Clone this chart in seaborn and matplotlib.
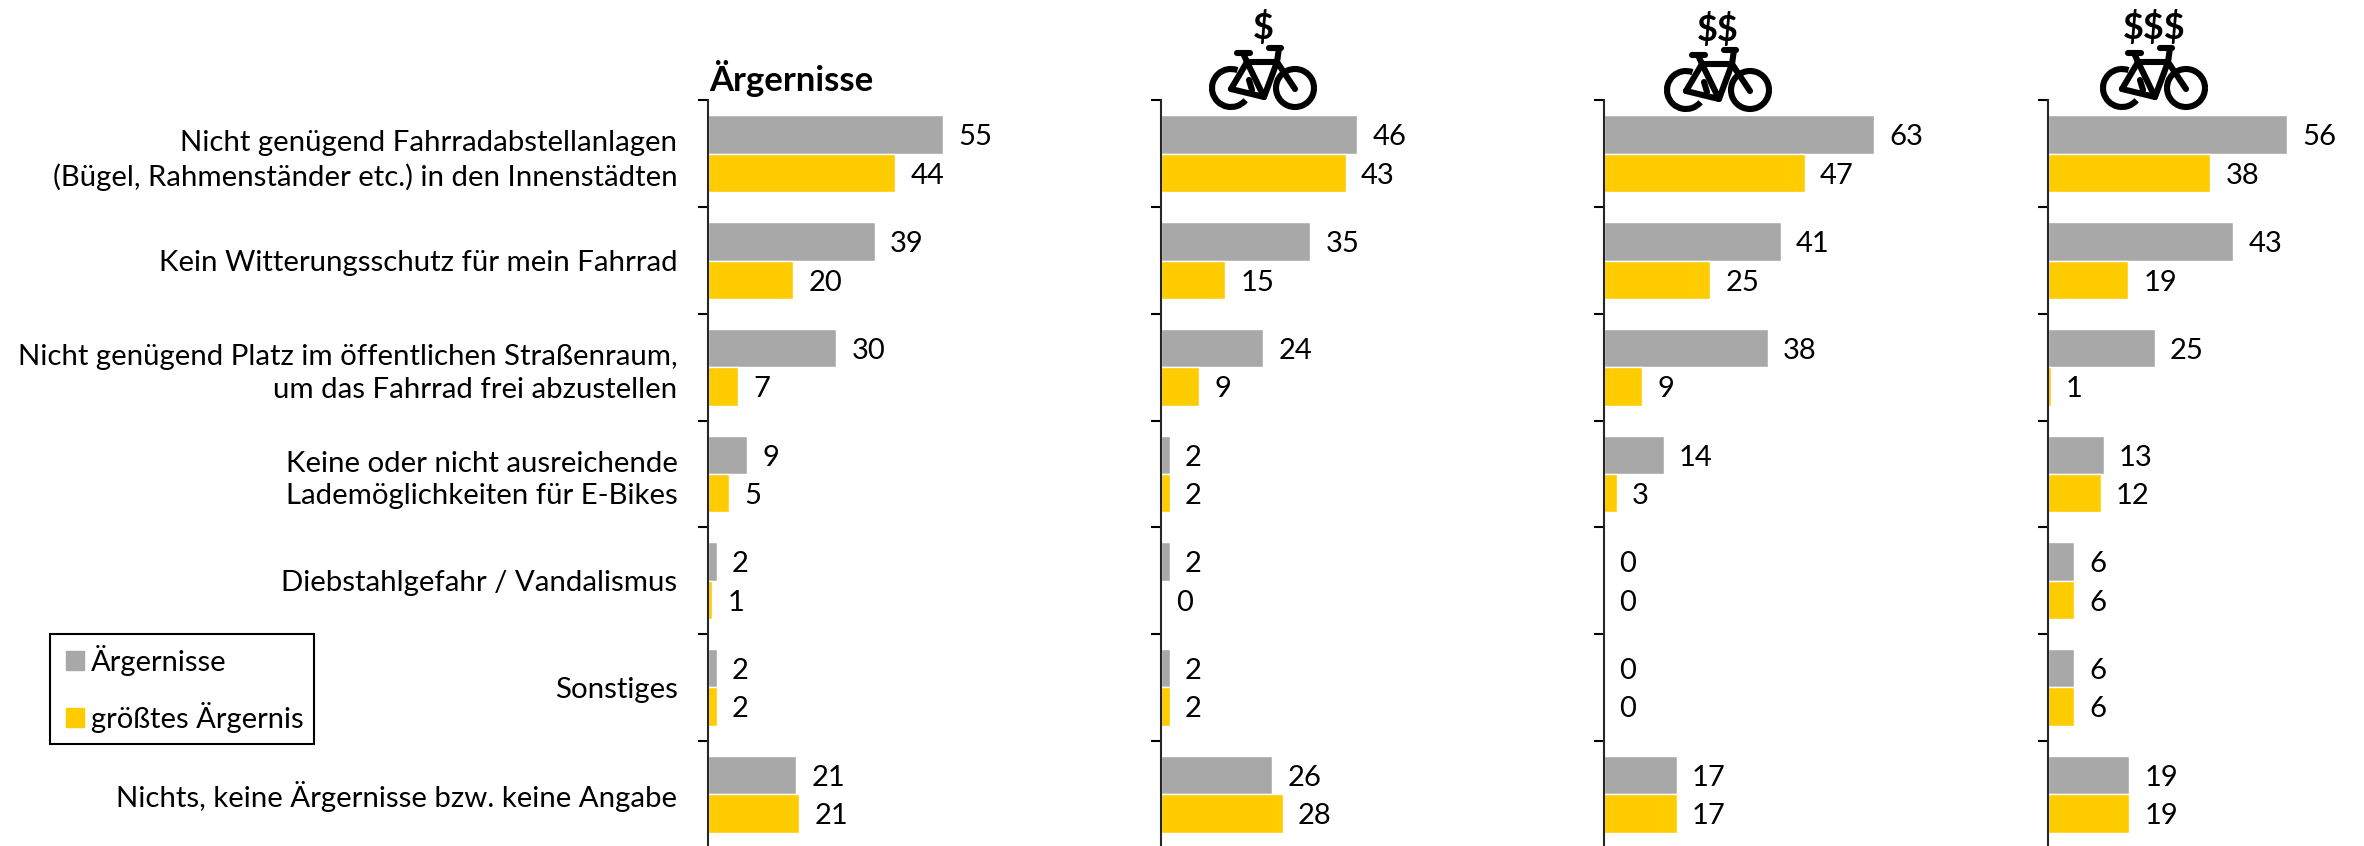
import numpy as np
import pandas as pd
import matplotlib
matplotlib.use("Agg")
import matplotlib.pyplot as plt
from matplotlib.patches import Arc, Rectangle
from matplotlib.legend_handler import HandlerPatch
from matplotlib.transforms import ScaledTranslation
import seaborn as sns

# category labels, top to bottom
categories = [
    "Nicht genügend Fahrradabstellanlagen\n(Bügel, Rahmenständer etc.) in den Innenstädten",
    "Kein Witterungsschutz für mein Fahrrad",
    "Nicht genügend Platz im öffentlichen Straßenraum,\num das Fahrrad frei abzustellen",
    "Keine oder nicht ausreichende\nLademöglichkeiten für E-Bikes",
    "Diebstahlgefahr / Vandalismus",
    "Sonstiges",
    "Nichts, keine Ärgernisse bzw. keine Angabe",
]
series_names = ["Ärgernisse", "größtes Ärgernis"]

# bar lengths, the printed labels are these rounded
all_grey = [55, 39, 30, 9.2, 2, 2, 20.7]
all_yellow = [43.8, 20, 7, 5, 1, 2, 21.4]
low_grey = [46, 35, 24, 2, 2, 2, 26]
low_yellow = [43.3, 15, 9, 2, 0, 2, 28.5]
mid_grey = [63.3, 41.4, 38.4, 14, 0, 0, 17]
mid_yellow = [47, 24.8, 9, 3, 0, 0, 17]
high_grey = [56, 43.4, 25, 13, 6, 6, 19]
high_yellow = [38, 18.7, 0.6, 12.3, 6, 6, 19]

GREY = "#A8A8A8"
YELLOW = "#FFCC00"
W, H = 2364, 846
PX_PER_UNIT = 4.27
AX_TOP = 100.5
AX_BOTTOM = 847.5


def make_df(grey, yellow):
    rows = []
    for name, vals in zip(series_names, [grey, yellow]):
        for cat, v in zip(categories, vals):
            rows.append({"cat": cat, "series": name, "value": v})
    return pd.DataFrame(rows)


def draw_panel(fig, left, grey, yellow, show_labels=False):
    width = 300
    ax = fig.add_axes([left / W, 1 - AX_BOTTOM / H, width / W, (AX_BOTTOM - AX_TOP) / H])
    ax.patch.set_alpha(0)
    sns.barplot(
        data=make_df(grey, yellow),
        y="cat",
        x="value",
        hue="series",
        order=categories,
        hue_order=series_names,
        palette=[GREY, YELLOW],
        saturation=1,
        width=0.72,
        gap=0,
        legend=False,
        ax=ax,
    )
    ax.set_xlim(0, width / PX_PER_UNIT)
    ax.set_ylim(6.5, -0.5)
    ax.set_xlabel("")
    ax.set_ylabel("")
    ax.xaxis.set_visible(False)
    for side in ["top", "right", "bottom"]:
        ax.spines[side].set_visible(False)
    ax.spines["left"].set_linewidth(1.5)
    ax.set_yticks(np.arange(-0.5, 7, 1))
    ax.set_yticklabels([])
    ax.tick_params(axis="y", which="major", left=True, length=7.5, width=1.5, color="black")
    ax.set_yticks(np.arange(7), minor=True)
    if show_labels:
        ax.set_yticklabels(categories, minor=True, fontsize=LABEL_FONT, ha="right", linespacing=1.33, color="black")
        # labels sit a touch above the group centre
        shift = ScaledTranslation(0, 4 / 100, fig.dpi_scale_trans)
        for lab in ax.get_yticklabels(minor=True):
            lab.set_transform(lab.get_transform() + shift)
    else:
        ax.set_yticklabels([], minor=True)
    ax.tick_params(axis="y", which="minor", left=False, length=0, pad=22)
    for cont in ax.containers:
        texts = ax.bar_label(cont, fmt="%.0f", padding=11, fontsize=FONT, color="black")
        for t in texts:
            t.xyann = (t.xyann[0], -2)
    return ax


def draw_bike(ax, cx, cy, lw=4.4):
    # icon in pixel offsets around its centre
    ax.add_patch(Arc((cx - 33, cy + 28), 38, 38, theta1=40, theta2=290, lw=lw, color="black"))
    ax.add_patch(Arc((cx + 31, cy + 28), 38, 38, theta1=0, theta2=360, lw=lw, color="black"))
    lines = [
        [(-33, 29), (-17, 2), (0, 37), (13, 2), (-17, 2)],
        [(-33, 29), (0, 37)],
        [(-21, -7), (-17, 2)],
        [(15, -12), (13, 2), (31, 29)],
        [(-27, -7), (-14, -7)],
        [(5, -12), (17, -12)],
        [(-15, 20), (-12, 30)],
    ]
    for pts in lines:
        xs = [cx + p[0] for p in pts]
        ys = [cy + p[1] for p in pts]
        ax.plot(xs, ys, color="black", lw=lw, solid_capstyle="round", solid_joinstyle="round")


def legend_swatch(legend, orig_handle, xdescent, ydescent, width, height, fontsize):
    # swatch is moved in from the frame, the frame padding stays tight
    return Rectangle((3.6 - xdescent, -ydescent), 13, height)


FONT = 21
LABEL_FONT = 21.2
sns.set_theme(style="white")
plt.rcParams["font.family"] = ["Lato", "DejaVu Sans"]

fig = plt.figure(figsize=(W / 100, H / 100), dpi=100, facecolor="white")

ax1 = draw_panel(fig, 708, all_grey, all_yellow, show_labels=True)
ax2 = draw_panel(fig, 1161, low_grey, low_yellow)
ax3 = draw_panel(fig, 1604, mid_grey, mid_yellow)
ax4 = draw_panel(fig, 2048, high_grey, high_yellow)

ax1.set_title("Ärgernisse", loc="left", fontsize=25, fontweight="bold", pad=7, x=0.003, color="black")

# overlay in pixel coordinates for the price icons
overlay = fig.add_axes([0, 0, 1, 1])
overlay.set_xlim(0, W)
overlay.set_ylim(H, 0)
overlay.axis("off")
overlay.patch.set_alpha(0)
for cx, cy, sign in [(1264, 60, "$"), (1719, 62, "$$"), (2155, 60, "$$$")]:
    draw_bike(overlay, cx, cy)
    overlay.text(cx - 1, cy - 33, sign, ha="center", va="center", fontsize=26, fontweight="bold",
                 color="black", parse_math=False)

handles = [Rectangle((0, 0), 1, 1, color=GREY), Rectangle((0, 0), 1, 1, color=YELLOW)]
leg = fig.legend(
    handles,
    series_names,
    loc="lower left",
    bbox_to_anchor=(50 / W, 1 - 744 / H),
    bbox_transform=fig.transFigure,
    frameon=True,
    fancybox=False,
    edgecolor="black",
    framealpha=1,
    fontsize=FONT,
    handlelength=0.75,
    handleheight=0.62,
    handletextpad=0.28,
    labelspacing=0.9,
    borderpad=0.37,
    borderaxespad=0,
    labelcolor="black",
    handler_map={Rectangle: HandlerPatch(patch_func=legend_swatch)},
)
leg.get_frame().set_linewidth(1.5)

fig.savefig("out.png", dpi=100)
